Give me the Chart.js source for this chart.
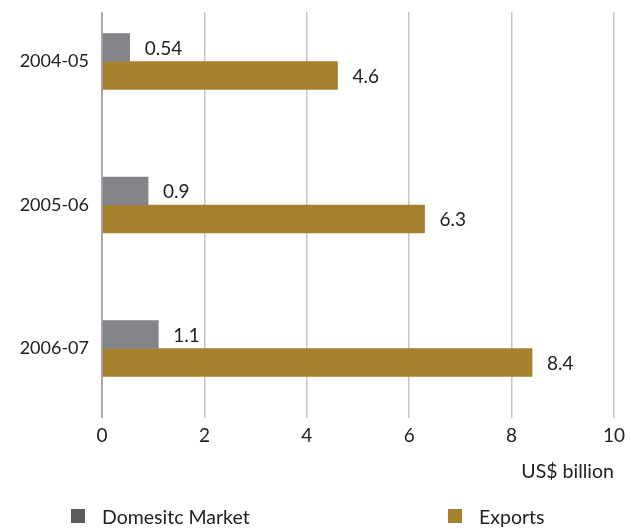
<!DOCTYPE html>
<html>
<head>
<meta charset="utf-8">
<script src="https://cdn.jsdelivr.net/npm/chart.js@4.4.1/dist/chart.umd.min.js"></script>
<style>
  html, body { margin: 0; padding: 0; background: #ffffff; }
  #wrap { position: relative; width: 631px; height: 529px; }
  #chart { position: absolute; left: 0; top: 0; }
  .legend-item { position: absolute; top: 505px; height: 22px; display: flex; align-items: center;
    font-family: Lato, "Open Sans", sans-serif; font-size: 19.5px; color: #222222; white-space: nowrap; }
  .legend-box { width: 14px; height: 14px; margin-right: 17px; }
</style>
</head>
<body>
<div id="wrap">
  <canvas id="chart" width="631" height="529"></canvas>
</div>
<script>
// Fiscal years shown on the vertical axis
const categories = ['2004-05', '2005-06', '2006-07'];
// Values in US$ billion
const domesticMarket = [0.54, 0.9, 1.1];
const exportsValues = [4.6, 6.3, 8.4];
// Horizontal axis ticks
const xTicks = [0, 2, 4, 6, 8, 10];
const seriesNames = ['Domesitc Market', 'Exports'];
const axisTitle = 'US$ billion';

const FONT = 'Lato, "Open Sans", sans-serif';
const TEXT = '#222222';
const barColors = ['#858589', '#a6822f'];
const legendColors = ['#5b5b5d', '#a6822f'];

const toPoints = vals => vals.map((v, i) => ({ x: v, y: i }));

// Writes each bar's value just past its end
const valueLabels = {
  id: 'valueLabels',
  afterDatasetsDraw(chart) {
    const ctx = chart.ctx;
    ctx.save();
    ctx.font = '19px ' + FONT;
    ctx.fillStyle = TEXT;
    ctx.textAlign = 'left';
    ctx.textBaseline = 'middle';
    chart.data.datasets.forEach((ds, di) => {
      chart.getDatasetMeta(di).data.forEach((bar, i) => {
        ctx.fillText(String(ds.data[i].x), bar.x + 15, bar.y + 1);
      });
    });
    ctx.restore();
  }
};

const chart = new Chart(document.getElementById('chart'), {
  type: 'bar',
  data: {
    datasets: [
      { label: seriesNames[0], data: toPoints(domesticMarket), backgroundColor: barColors[0] },
      { label: seriesNames[1], data: toPoints(exportsValues), backgroundColor: barColors[1] }
    ]
  },
  options: {
    indexAxis: 'y',
    responsive: false,
    animation: false,
    layout: { padding: { top: 12, right: 13, left: 0, bottom: 0 } },
    datasets: { bar: { barThickness: 28, borderWidth: 0 } },
    plugins: { legend: { display: false }, tooltip: { enabled: false } },
    scales: {
      x: {
        type: 'linear',
        min: xTicks[0],
        max: xTicks[xTicks.length - 1],
        afterBuildTicks: s => { s.ticks = xTicks.map(v => ({ value: v })); },
        afterFit: s => { s.height = 111; },
        border: { display: false },
        grid: {
          drawTicks: false,
          color: c => (c.tick && c.tick.value === 0) ? '#a8a8ac' : '#c6c6ca',
          lineWidth: c => (c.tick && c.tick.value === 0) ? 2 : 1.5
        },
        ticks: { font: { family: FONT, size: 19 }, color: TEXT, padding: 6 },
        title: {
          display: true, text: axisTitle, align: 'end',
          font: { family: FONT, size: 19.5 }, color: TEXT,
          padding: { top: 0, bottom: 46 }
        }
      },
      y: {
        type: 'linear',
        reverse: true,
        offset: false,
        bounds: 'data',
        min: -0.345,
        max: 2.484,
        afterBuildTicks: s => { s.ticks = categories.map((_, i) => ({ value: i })); },
        afterFit: s => { s.width = 102; s.paddingTop = 0; s.paddingBottom = 0; },
        border: { display: false },
        grid: { display: false, drawTicks: false, offset: false },
        ticks: {
          font: { family: FONT, size: 18 }, color: TEXT, padding: 13,
          callback: v => categories[v] ?? ''
        }
      }
    }
  },
  plugins: [valueLabels]
});

// Legend placed under the axis title
const wrap = document.getElementById('wrap');
const legendX = [71, 448];
chart.data.datasets.forEach((ds, i) => {
  const item = document.createElement('div');
  item.className = 'legend-item';
  item.style.left = legendX[i] + 'px';
  const box = document.createElement('span');
  box.className = 'legend-box';
  box.style.background = legendColors[i];
  const label = document.createElement('span');
  label.textContent = ds.label;
  item.appendChild(box);
  item.appendChild(label);
  wrap.appendChild(item);
});
</script>
</body>
</html>
